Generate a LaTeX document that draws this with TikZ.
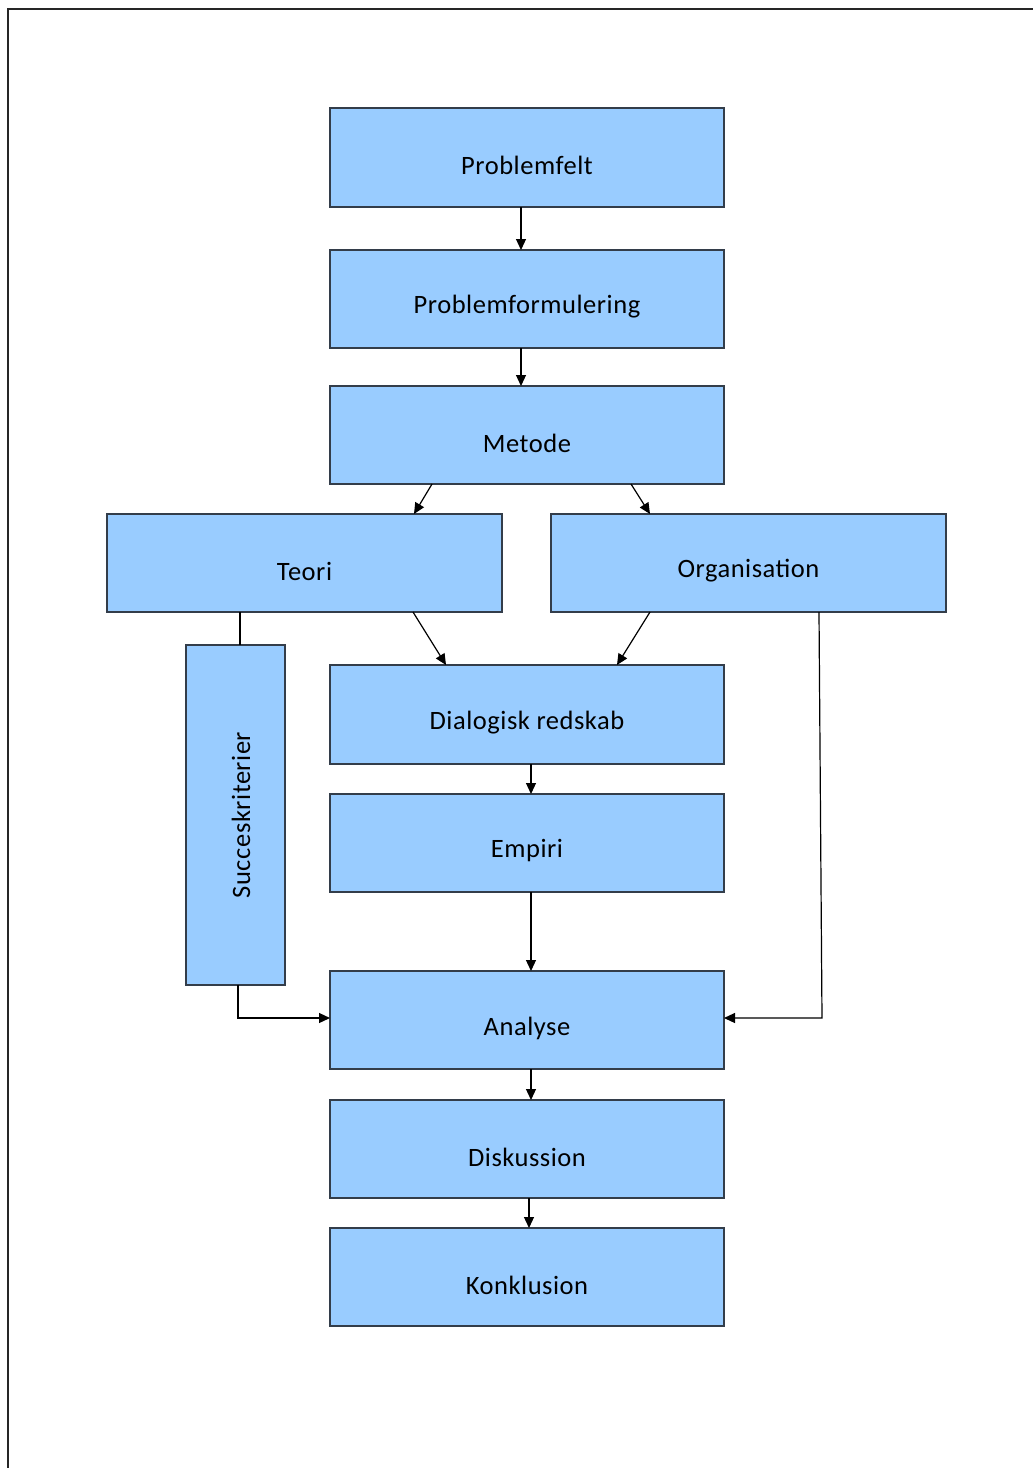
\documentclass[tikz,border=0pt]{standalone}
\usepackage{fontspec}
\setmainfont{Carlito}
\usetikzlibrary{arrows.meta}
\definecolor{boxfill}{HTML}{99CCFF}
\definecolor{boxline}{HTML}{333D4A}
\begin{document}
\begin{tikzpicture}[x=1pt,y=-1pt,
  box/.style={draw=boxline,line width=1.2pt,fill=boxfill,inner sep=0pt,outer sep=0pt},
  lbl/.style={font=\fontsize{26.5}{30}\selectfont\addfontfeatures{LetterSpace=2},text=black},
  conn/.style={draw=black,line width=1.2pt},
  arr/.style={conn,-{Triangle[length=11pt,width=10pt]}}]
\useasboundingbox (0,0) rectangle (1033,1468);
\fill[white] (0,0) rectangle (1033,1468);
\draw[line width=1.4pt,color=black!85] (8,1468) -- (8,9) -- (1033,9);
% boxes
\newcommand{\mybox}[6]{%
  \node[box,minimum width=#4-#2,minimum height=#5-#3] (#1) at ({(#2+#4)/2},{(#3+#5)/2}) {};
  \node[lbl] (#1t) at ({(#2+#4)/2},{(#3+#5)/2+8}) {#6};}
\mybox{pf}{330}{108}{724}{207}{Problemfelt}
\mybox{pform}{330}{250}{724}{348}{Problemformulering}
\mybox{met}{330}{386}{724}{484}{Metode}
\mybox{teo}{107}{514}{502}{612}{Teori}
\mybox{org}{551}{514}{946}{612}{Organisation}
\mybox{dia}{330}{665}{724}{764}{Dialogisk redskab}
\mybox{emp}{330}{794}{724}{892}{Empiri}
\mybox{ana}{330}{971}{724}{1069}{Analyse}
\mybox{dis}{330}{1100}{724}{1198}{Diskussion}
\mybox{kon}{330}{1228}{724}{1326}{Konklusion}
\node[box,minimum width=99,minimum height=340] (suc) at (235.5,815) {};
\node[lbl,rotate=90] (suct) at (241,815) {Succeskriterier};
% connectors
\draw[arr] (pf.south -| 521,0) -- (pform.north -| 521,0);
\draw[arr] (pform.south -| 521,0) -- (met.north -| 521,0);
\draw[arr] (met.south -| 432,0) -- (teo.north -| 414,0);
\draw[arr] (met.south -| 631,0) -- (org.north -| 650,0);
\draw[arr] (teo.south -| 413,0) -- (dia.north -| 446,0);
\draw[arr] (org.south -| 650,0) -- (dia.north -| 617,0);
\draw[conn] (teo.south -| 240,0) -- (suc.north -| 240,0);
\draw[arr] (dia.south -| 531,0) -- (emp.north -| 531,0);
\draw[arr] (emp.south -| 531,0) -- (ana.north -| 531,0);
\draw[arr] (suc.south -| 238,0) -- (238,1018) -- (ana.west |- 0,1018);
\draw[arr] (org.south -| 819,0) -- (822,1018) -- (ana.east |- 0,1018);
\draw[arr] (ana.south -| 531,0) -- (dis.north -| 531,0);
\draw[arr] (dis.south -| 529,0) -- (kon.north -| 529,0);
\end{tikzpicture}
\end{document}
